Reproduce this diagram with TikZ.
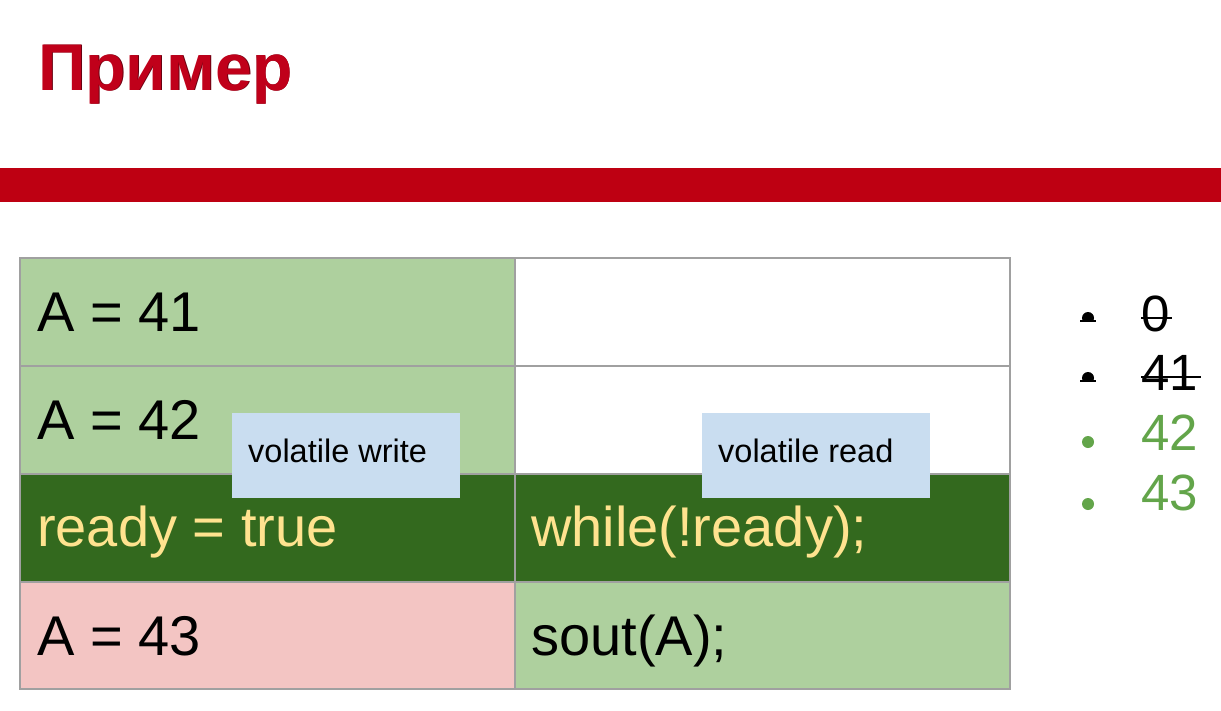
\documentclass[tikz,border=0pt]{standalone}
\usepackage{fontspec}
\setmainfont{Liberation Sans}
\definecolor{titlered}{HTML}{C0001A}
\definecolor{titledark}{HTML}{6A0010}
\definecolor{barred}{HTML}{BE0012}
\definecolor{lightgreen}{HTML}{AED09E}
\definecolor{darkgreen}{HTML}{33691E}
\definecolor{pinkcell}{HTML}{F3C5C3}
\definecolor{gridgray}{HTML}{A0A0A0}
\definecolor{codeyellow}{HTML}{FFE38F}
\definecolor{notebg}{HTML}{C9DDF0}
\definecolor{listgreen}{HTML}{63A54A}
\tikzset{
  cell/.style={draw=gridgray, line width=1.5pt, anchor=north west,
    minimum width=495pt, minimum height=108pt, inner sep=0pt, outer sep=0pt},
  celltext/.style={anchor=base west, inner sep=0pt, font=\fontsize{56}{56}\selectfont},
  notebox/.style={fill=notebg, anchor=north west, minimum width=228pt,
    minimum height=85pt, inner sep=0pt},
  notetext/.style={anchor=base west, inner sep=0pt, font=\fontsize{32.5}{32.5}\selectfont},
  numtext/.style={anchor=base west, inner sep=0pt, font=\fontsize{51}{51}\selectfont},
  strike/.style={line width=2.4pt},
}
\begin{document}
\begin{tikzpicture}[x=1pt,y=-1pt]
\useasboundingbox[fill=white] (0,0) rectangle (1221,710);

% heading and red rule
\node[anchor=base west, inner sep=0pt, text=titledark,
  font=\fontsize{66}{66}\selectfont\bfseries] (titleshadow) at (38.8,90.8) {Пример};
\node[anchor=base west, inner sep=0pt, text=titlered,
  font=\fontsize{66}{66}\selectfont\bfseries] (title) at (38,90) {Пример};
\fill[barred] (0,168) rectangle (1221,202);

% table cells
\node[cell, fill=lightgreen] (a1) at (20,258) {};
\node[cell, fill=white]      (b1) at (515,258) {};
\node[cell, fill=lightgreen] (a2) at (20,366) {};
\node[cell, fill=white]      (b2) at (515,366) {};
\node[cell, fill=darkgreen]  (a3) at (20,474) {};
\node[cell, fill=darkgreen]  (b3) at (515,474) {};
\node[cell, fill=pinkcell, minimum height=107pt] (a4) at (20,582) {};
\node[cell, fill=lightgreen, minimum height=107pt] (b4) at (515,582) {};

% cell contents
\node[celltext] (t1) at (37,331) {A = 41};
\node[celltext] (t2) at (37,439) {A = 42};
\node[celltext, text=codeyellow] (t3) at (37,546) {ready = true};
\node[celltext, text=codeyellow] (t4) at (531,546) {while(!ready);};
\node[celltext] (t5) at (37,655) {A = 43};
\node[celltext] (t6) at (531,655) {sout(A);};

% annotations
\node[notebox] (nw) at (232,413) {};
\node[notetext] (nwt) at (248,462) {volatile write};
\node[notebox] (nr) at (702,413) {};
\node[notetext] (nrt) at (718,462) {volatile read};

% list of possible values
\node[numtext] (v0) at (1141,331) {0};
\node[numtext] (v1) at (1141,390) {41};
\node[numtext, text=listgreen] (v2) at (1141,450) {42};
\node[numtext, text=listgreen] (v3) at (1141,510) {43};
\draw[strike] ([yshift=13pt]v0.base west) -- ([xshift=2pt,yshift=13pt]v0.base east);
\draw[strike] ([yshift=13pt]v1.base west) -- ([xshift=3pt,yshift=13pt]v1.base east);

% bullets: struck-out ones have a flat bottom
\foreach \yy in {321,381} {
  \begin{scope}
    \clip (1080,\yy-10) rectangle (1096,\yy);
    \fill (1088,\yy-3) circle[radius=6];
  \end{scope}
  \draw[line width=1.4pt] (1080,\yy) -- (1096,\yy);
}
\fill[listgreen] (1088,442) circle[radius=6];
\fill[listgreen] (1088,504) circle[radius=6];
\end{tikzpicture}
\end{document}
